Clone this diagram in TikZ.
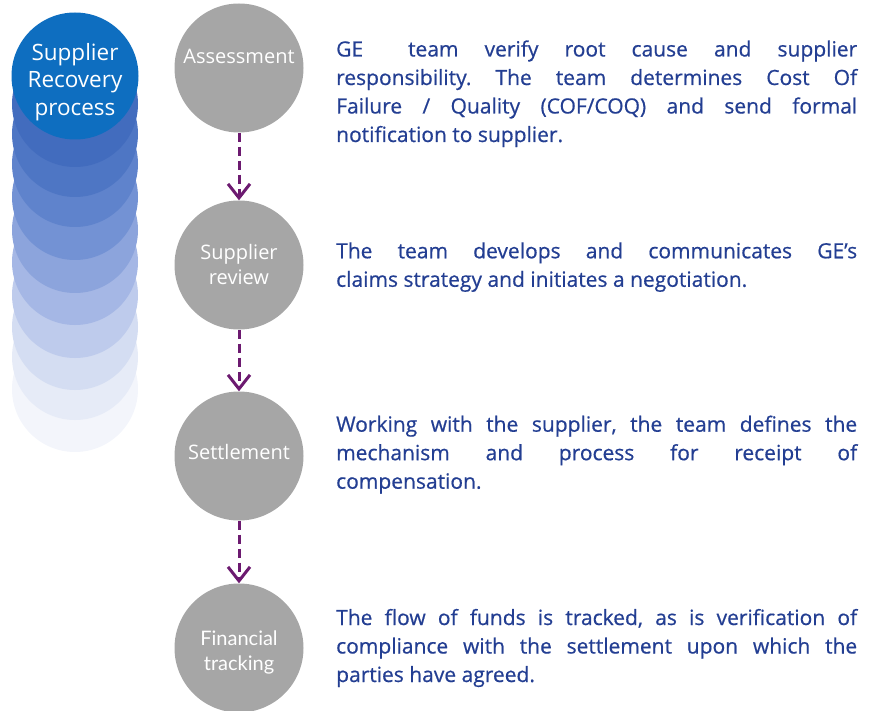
\documentclass[tikz,border=0pt]{standalone}
\usepackage{fontspec}
\setmainfont{Open Sans}
\newfontfamily\inspfont{Lato}
\newfontfamily\descfont{Open Sans}[FakeBold=0.6]
\usetikzlibrary{arrows.meta}
\definecolor{txtblue}{RGB}{35,62,146}
\definecolor{stepgray}{RGB}{166,166,166}
\definecolor{arrpurple}{RGB}{108,26,112}
\definecolor{topblue}{RGB}{14,110,192}
\begin{document}
\begin{tikzpicture}[x=1pt,y=-1pt,
  stepcircle/.style={circle, fill=stepgray, minimum size=129pt, inner sep=0pt},
  steptext/.style={text=white, align=center, inner sep=0pt, font=\fontsize{20}{25}\selectfont},
  flowarrow/.style={draw=arrpurple, line width=3pt, dash pattern=on 9pt off 5pt,
    -{Straight Barb[length=14pt,width=22pt]}},
  desc/.style={anchor=base west, text width=521pt, align=justify, inner sep=0pt,
    text=txtblue, font=\descfont\frenchspacing\fontsize{21}{28.5}\selectfont}]
\useasboundingbox (0,0) rectangle (878,711);

% fading stack of circles
\foreach \cy/\rr/\gg/\bb in {389/243/245/251, 357/230/235/247, 327/212/221/242,
    295/190/203/236, 262/165/183/229, 230/140/164/220, 197/115/146/212,
    164/95/131/204, 134/78/118/196, 104/66/108/190} {
  \definecolor{stk}{RGB}{\rr,\gg,\bb}
  \fill[stk] (75,\cy) circle (63);
}
\node[circle, fill=topblue, minimum size=127pt, inner sep=0pt] (src) at (75,76) {};
\node[text=white, align=center, inner sep=0pt, font=\fontsize{22.5}{27.5}\selectfont] (srctext) at (75,82) {Supplier\\Recovery\\process};

% steps
\node[stepcircle] (c1) at (239,68) {};
\node[stepcircle] (c2) at (239,265) {};
\node[stepcircle] (c3) at (239,456) {};
\node[stepcircle] (c4) at (239,648) {};
\node[steptext] (t1) at (239,56) {Assessment};
\node[steptext] (t2) at (239,265) {Supplier\\review};
\node[steptext] (t3) at (239,452) {Settlement};
\node[steptext, font=\inspfont\fontsize{20}{25}\selectfont] (t4) at (239,652) {Financial\\tracking};

\draw[flowarrow] (c1.south) -- (c2.north);
\draw[flowarrow] (c2.south) -- (c3.north);
\draw[flowarrow] (c3.south) -- (c4.north);

% descriptions
\node[desc] (d1) at (336,56.5) {GE\hspace{0.9em} team verify root cause and supplier\linebreak responsibility. The team determines Cost Of\linebreak Failure / Quality (COF/COQ) and send formal\linebreak notification to supplier.};
\node[desc] (d2) at (336,258.3) {The team develops and communicates GE’s\linebreak claims strategy and initiates a negotiation.};
\node[desc] (d3) at (336,431.7) {Working with the supplier, the team defines the\linebreak mechanism and process for receipt of\linebreak compensation.};
\node[desc] (d4) at (336,625) {The flow of funds is tracked, as is verification of\linebreak compliance with the settlement upon which the\linebreak parties have agreed.};
\end{tikzpicture}
\end{document}
